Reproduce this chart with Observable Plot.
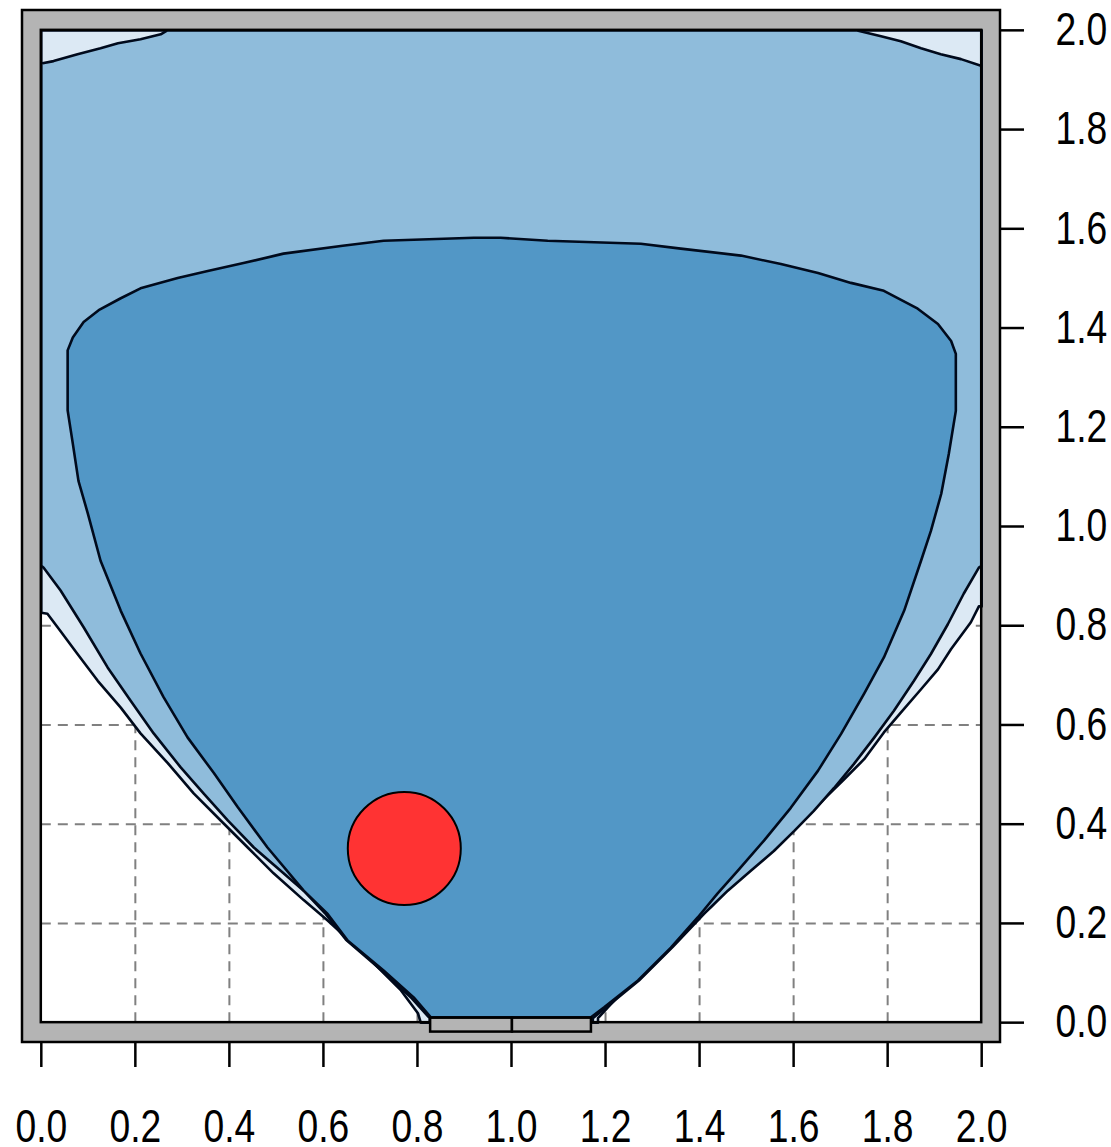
<!DOCTYPE html>
<html><head><meta charset="utf-8">
<script src="https://cdn.jsdelivr.net/npm/d3@7"></script>
<script src="https://cdn.jsdelivr.net/npm/@observablehq/plot@0.6"></script>
<style>body{margin:0;background:#fff;} #chart svg{display:block;}</style>
</head><body><div id="chart"></div>
<script>
// Tick values
const xTicks = [0, 0.2, 0.4, 0.6, 0.8, 1.0, 1.2, 1.4, 1.6, 1.8, 2.0];
const yTicks = [0, 0.2, 0.4, 0.6, 0.8, 1.0, 1.2, 1.4, 1.6, 1.8, 2.0];
const gridX = [0.2, 0.4, 0.6, 0.8, 1.0, 1.2, 1.4, 1.6, 1.8];
const gridY = [0.2, 0.4, 0.6, 0.8, 1.0, 1.2, 1.4, 1.6, 1.8];

// Outermost (very light) region boundary
const outerBand = [
  [0, 2], [2, 2], [2, 0.839],
  [1.994, 0.839], [1.977, 0.807], [1.935, 0.753], [1.907, 0.712], [1.871, 0.672],
  [1.828, 0.625], [1.792, 0.585], [1.750, 0.531], [1.707, 0.490], [1.664, 0.450],
  [1.622, 0.409], [1.580, 0.369], [1.537, 0.334], [1.481, 0.288], [1.424, 0.233],
  [1.366, 0.186], [1.311, 0.132], [1.254, 0.079], [1.205, 0.031], [1.184, 0.009],
  [1.184, 0], [0.807, 0],
  [0.801, 0.019], [0.765, 0.065], [0.694, 0.132], [0.609, 0.206], [0.558, 0.247],
  [0.494, 0.301], [0.439, 0.353], [0.382, 0.407], [0.324, 0.462], [0.269, 0.523],
  [0.211, 0.583], [0.169, 0.635], [0.120, 0.689], [0.077, 0.743], [0.041, 0.789],
  [0.013, 0.824], [0, 0.826], [0, 2]
];

// Light blue region boundary
const lightBand = [
  [0, 1.933], [0.026, 1.938], [0.077, 1.952], [0.126, 1.964], [0.163, 1.974],
  [0.211, 1.982], [0.254, 1.992], [0.268, 2.0],
  [1.733, 2.0], [1.786, 1.988], [1.828, 1.978], [1.871, 1.964], [1.913, 1.952],
  [1.956, 1.942], [2, 1.928],
  [2, 0.921], [1.994, 0.917], [1.962, 0.865], [1.928, 0.803], [1.892, 0.743],
  [1.856, 0.689], [1.813, 0.628], [1.771, 0.574], [1.728, 0.521], [1.686, 0.473],
  [1.643, 0.427], [1.601, 0.386], [1.558, 0.346], [1.509, 0.306], [1.460, 0.266],
  [1.409, 0.219], [1.343, 0.153], [1.271, 0.085], [1.199, 0.029], [1.173, 0.009],
  [1.173, 0], [0.826, 0],
  [0.826, 0.009], [0.788, 0.049], [0.724, 0.105], [0.648, 0.167], [0.603, 0.221],
  [0.558, 0.266], [0.509, 0.306], [0.452, 0.353], [0.397, 0.407], [0.345, 0.462],
  [0.296, 0.515], [0.239, 0.583], [0.190, 0.649], [0.141, 0.716], [0.090, 0.797],
  [0.041, 0.871], [0.005, 0.917], [0, 0.921], [0, 1.933]
];

// Inner (medium blue) region boundary
const innerCore = [
  [0.828, 0.011], [0.792, 0.051], [0.728, 0.105], [0.652, 0.165], [0.609, 0.219],
  [0.558, 0.266], [0.481, 0.353], [0.418, 0.434], [0.367, 0.503], [0.311, 0.575],
  [0.260, 0.656], [0.211, 0.744], [0.169, 0.830], [0.126, 0.931], [0.099, 1.026],
  [0.079, 1.092], [0.067, 1.167], [0.056, 1.234], [0.056, 1.355], [0.067, 1.381],
  [0.090, 1.412], [0.122, 1.436], [0.169, 1.460], [0.211, 1.480], [0.290, 1.501],
  [0.354, 1.515], [0.430, 1.531], [0.515, 1.550], [0.641, 1.566], [0.728, 1.576],
  [0.920, 1.582], [0.977, 1.582], [1.077, 1.576], [1.275, 1.570], [1.360, 1.560],
  [1.488, 1.546], [1.573, 1.529], [1.652, 1.511], [1.722, 1.491], [1.792, 1.475],
  [1.864, 1.439], [1.907, 1.408], [1.935, 1.374], [1.945, 1.348], [1.945, 1.233],
  [1.930, 1.146], [1.914, 1.066], [1.892, 0.991], [1.871, 0.931], [1.835, 0.830],
  [1.792, 0.736], [1.750, 0.663], [1.701, 0.582], [1.652, 0.508], [1.594, 0.433],
  [1.537, 0.367], [1.481, 0.306], [1.438, 0.260], [1.396, 0.212], [1.339, 0.151],
  [1.269, 0.085], [1.197, 0.031], [1.169, 0.011], [0.828, 0.011]
];

const marker = [{x: 0.772, y: 0.351}];
const baseBoxes = [
  {x1: 0.828, x2: 1.002, y1: -0.019, y2: 0.009},
  {x1: 1.002, x2: 1.170, y1: -0.019, y2: 0.009}
];
const frameOuter = [{x1: -0.04, x2: 2.04, y1: -0.04, y2: 2.04}];
const frameInner = [{x1: 0, x2: 2, y1: 0, y2: 2}];

const GRAY = "#b4b4b4";
const INK = "#000a1c";

const chart = Plot.plot({
  width: 1111,
  height: 1147,
  marginLeft: 22,
  marginRight: 111,
  marginTop: 10,
  marginBottom: 105,
  x: {domain: [-0.04, 2.04]},
  y: {domain: [-0.04, 2.04]},
  style: {fontFamily: "'Liberation Sans', Arial, sans-serif", fontSize: "46px", background: "#fff", color: "#000", overflow: "visible"},
  marks: [
    Plot.rect(frameOuter, {x1: "x1", x2: "x2", y1: "y1", y2: "y2", fill: GRAY, stroke: "#000", strokeWidth: 2.5}),
    Plot.rect(frameInner, {x1: "x1", x2: "x2", y1: "y1", y2: "y2", fill: "#fff"}),
    Plot.ruleX(gridX, {x: d => d, y1: 0, y2: 2, stroke: "#808080", strokeWidth: 2, strokeDasharray: "10,7"}),
    Plot.ruleY(gridY, {y: d => d, x1: 0, x2: 2, stroke: "#808080", strokeWidth: 2, strokeDasharray: "10,7"}),
    Plot.line(outerBand, {x: d => d[0], y: d => d[1], fill: "#dce9f4", stroke: INK, strokeWidth: 2.6, curve: "linear"}),
    Plot.line(lightBand, {x: d => d[0], y: d => d[1], fill: "#8fbcdb", stroke: INK, strokeWidth: 2.6, curve: "linear"}),
    Plot.line(innerCore, {x: d => d[0], y: d => d[1], fill: "#5297c6", stroke: INK, strokeWidth: 2.6, curve: "linear"}),
    Plot.rect(frameInner, {x1: "x1", x2: "x2", y1: "y1", y2: "y2", fill: "none", stroke: "#000", strokeWidth: 2.5}),
    Plot.rect(baseBoxes, {x1: "x1", x2: "x2", y1: "y1", y2: "y2", fill: GRAY, stroke: "#000", strokeWidth: 2.5}),
    Plot.dot(marker, {x: "x", y: "y", r: 56.5, fill: "#ff3333", stroke: "#000", strokeWidth: 2}),
    Plot.axisX({ticks: xTicks, anchor: "bottom", tickSize: 25, tickPadding: 42, tickFormat: d3.format(".1f"), fontSize: 46, strokeWidth: 2.5, label: null}),
    Plot.axisY({ticks: yTicks, anchor: "right", tickSize: 23, tickPadding: 32, tickFormat: d3.format(".1f"), fontSize: 46, strokeWidth: 2.5, label: null})
  ]
});
document.getElementById("chart").appendChild(chart);
// condense tick labels to match the narrow face of the reference
chart.querySelectorAll('g[aria-label$="tick label"] text').forEach(t => {
  const w = t.getComputedTextLength();
  if (w > 0) {
    t.setAttribute("textLength", (w * 0.81).toFixed(1));
    t.setAttribute("lengthAdjust", "spacingAndGlyphs");
  }
});
</script>
</body></html>
